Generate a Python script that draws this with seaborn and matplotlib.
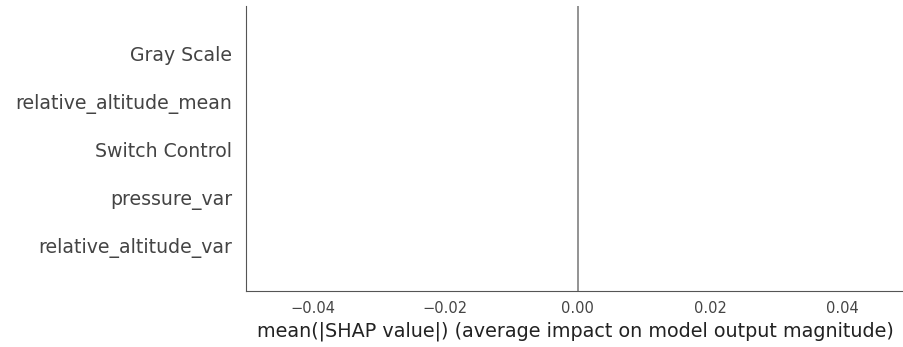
import matplotlib
matplotlib.use('Agg')
import matplotlib.pyplot as plt
import seaborn as sns
import pandas as pd

# SHAP mean(|value|) per feature - all zero in the reference
features = ['Gray Scale', 'relative_altitude_mean', 'Switch Control',
            'pressure_var', 'relative_altitude_var']
mean_abs_shap = [0.0, 0.0, 0.0, 0.0, 0.0]
xtick_vals = [-0.04, -0.02, 0.00, 0.02, 0.04]

df = pd.DataFrame({'feature': features, 'value': mean_abs_shap})

sns.set_style('white')
plt.rcParams['font.family'] = ['DejaVu Sans']
axis_color = '#333333'

fig = plt.figure(figsize=(9.04, 3.47), dpi=100)
ax = fig.add_axes([246 / 904, 56 / 347, (904 - 246) / 904, 285 / 347])

sns.barplot(data=df, x='value', y='feature', orient='h', color='#ff0d57', ax=ax)
ax.axvline(0, color='#808080', linewidth=1.2, zorder=1)

ax.set_xlim(-0.0501, 0.0493)
ax.set_ylim(len(features) - 0.05, -1.0)
ax.set_xticks(xtick_vals)
ax.set_xticklabels([f'{v:.2f}'.replace('-', '\u2212') for v in xtick_vals])

for side in ['top', 'right']:
    ax.spines[side].set_visible(False)
for side in ['left', 'bottom']:
    ax.spines[side].set_color('#555555')
    ax.spines[side].set_linewidth(0.8)

ax.tick_params(axis='y', length=0, labelsize=13.6, labelcolor='#444444', pad=10)
ax.tick_params(axis='x', length=4, width=0.8, color='#555555',
               labelsize=10.5, labelcolor='#444444', pad=3)
ax.set_ylabel('')
ax.set_xlabel('mean(|SHAP value|) (average impact on model output magnitude)',
              fontsize=13.8, color='#222222', labelpad=4)

fig.savefig('out.png', dpi=100)
